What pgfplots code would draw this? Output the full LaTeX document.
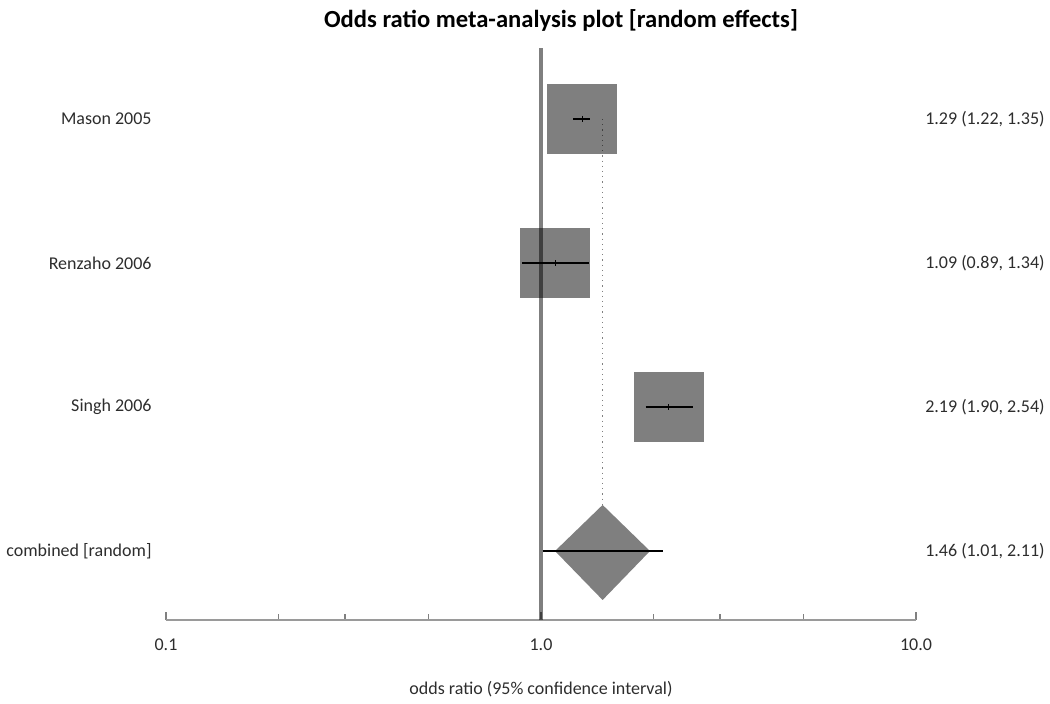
\documentclass[border=0pt]{standalone}
\usepackage{pgfplots}
\pgfplotsset{compat=1.18}
\usepackage{fontspec}
\setmainfont{Carlito}
\definecolor{boxgray}{RGB}{128,128,128}
\definecolor{txt}{RGB}{45,45,45}

\begin{document}
\begin{tikzpicture}[font=\fontsize{9}{11}\selectfont]
\begin{axis}[
  at={(0,0)}, anchor=south west,
  scale only axis, width=375pt, height=286pt,
  xmode=log, xmin=0.1, xmax=10, ymin=0.521, ymax=4.493,
  axis x line*=bottom, axis y line=none,
  xtick={0.1,1,10}, xticklabels={0.1,1.0,10.0},
  minor xtick={0.2,0.3,0.5,2,3,5},
  xtick align=inside, major tick length=4pt, minor tick length=3pt,
  tick style={boxgray, line width=0.6pt},
  axis line style={boxgray!80, line width=0.8pt},
  xticklabel style={anchor=base, yshift=-15pt, text=txt},
  clip=false,
]
% study squares (fixed size, half-transparent like the original)
\addplot[only marks, mark=square*, mark size=17.5pt,
  mark options={fill=black, fill opacity=0.5, draw opacity=0}]
  coordinates {(1.29,4) (1.09,3) (2.19,2)};
% pooled estimate diamond
\addplot[draw=none, fill=black, fill opacity=0.5]
  coordinates {(1.09,1) (1.46,1.32) (1.953,1) (1.46,0.66) (1.09,1)};
% line of no effect
\addplot[black, opacity=0.5, line width=2pt] coordinates {(1,0.521) (1,4.493)};
% pooled estimate guide
\addplot[boxgray, dotted, line width=0.6pt] coordinates {(1.46,4) (1.46,1.32)};
% confidence intervals
\addplot[black, line width=1pt] coordinates {(1.22,4) (1.35,4)};
\addplot[black, line width=1pt] coordinates {(0.89,3) (1.34,3)};
\addplot[black, line width=1pt] coordinates {(1.90,2) (2.54,2)};
\addplot[black, line width=1pt] coordinates {(1.01,1) (2.11,1)};
\addplot[only marks, black, mark=|, mark size=1.5pt]
  coordinates {(1.29,4) (1.09,3) (2.19,2)};

\node[anchor=east, text=txt, inner sep=0pt, xshift=-7pt] at (axis cs:0.1,4) {Mason 2005};
\node[anchor=east, text=txt, inner sep=0pt, xshift=-7pt] at (axis cs:0.1,3) {Renzaho 2006};
\node[anchor=east, text=txt, inner sep=0pt, xshift=-7pt] at (axis cs:0.1,2) {Singh 2006};
\node[anchor=east, text=txt, inner sep=0pt, xshift=-7pt] at (axis cs:0.1,1) {combined [random]};

\node[anchor=east, text=txt, inner sep=0pt, xshift=64.5pt] at (axis cs:10,4) {1.29 (1.22, 1.35)};
\node[anchor=east, text=txt, inner sep=0pt, xshift=64.5pt] at (axis cs:10,3) {1.09 (0.89, 1.34)};
\node[anchor=east, text=txt, inner sep=0pt, xshift=64.5pt] at (axis cs:10,2) {2.19 (1.90, 2.54)};
\node[anchor=east, text=txt, inner sep=0pt, xshift=64.5pt] at (axis cs:10,1) {1.46 (1.01, 2.11)};
\end{axis}
\node[anchor=base, inner sep=0pt, font=\fontsize{12.3}{14}\selectfont\bfseries] at (197.5pt,296pt)
  {Odds ratio meta-analysis plot [random effects]};
\node[anchor=base, inner sep=0pt, text=txt] at (187.5pt,-37pt)
  {odds ratio (95\% confidence interval)};
\pgfresetboundingbox
\path (-83pt,-41.5pt) rectangle (442pt,310pt);
\end{tikzpicture}
\end{document}
